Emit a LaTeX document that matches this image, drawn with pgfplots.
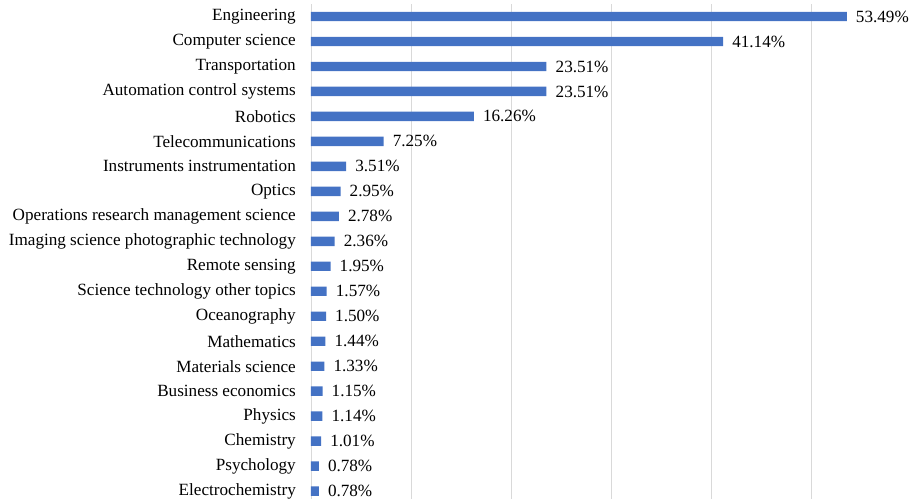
\documentclass[border=0pt]{standalone}
\usepackage{pgfplots}
\pgfplotsset{compat=1.18}
\usepackage{fontspec}
\setmainfont{Liberation Serif}
\definecolor{barblue}{HTML}{4472C4}
\definecolor{gridgray}{HTML}{D9D9D9}
\begin{document}
\begin{tikzpicture}
\begin{axis}[name=ax,
  scale only axis, width=601bp, height=499.6bp,
  xbar, bar width=9.4bp,
  xmin=0, xmax=60, ymin=-0.5, ymax=19.5,
  y dir=reverse,
  ytick={0,...,19},
  yticklabels={Engineering, Computer science, Transportation, Automation control systems, Robotics, Telecommunications, Instruments instrumentation, Optics, Operations research management science, Imaging science photographic technology, Remote sensing, Science technology other topics, Oceanography, Mathematics, Materials science, Business economics, Physics, Chemistry, Psychology, Electrochemistry},
  xtick={0,10,...,50}, xticklabels={},
  xmajorgrids, grid style={gridgray, line width=0.9bp},
  axis line style={draw=none},
  major tick length=0pt,
  yticklabel style={font=\fontsize{17.2}{20}\selectfont, inner sep=0pt, xshift=-15bp},
  point meta=x,
  nodes near coords={\pgfmathprintnumber[fixed,fixed zerofill,precision=2,assume math mode=true]{\pgfplotspointmeta}\%},
  nodes near coords style={font=\fontsize{17.2}{20}\selectfont, anchor=west, inner sep=0pt, xshift=9bp, text=black},
]
\addplot[fill=barblue, draw=none] coordinates {
(53.49,0) (41.14,1) (23.51,2) (23.51,3) (16.26,4) (7.25,5) (3.51,6) (2.95,7) (2.78,8) (2.36,9)
(1.95,10) (1.57,11) (1.50,12) (1.44,13) (1.33,14) (1.15,15) (1.14,16) (1.01,17) (0.78,18) (0.78,19)};
\end{axis}
\pgfresetboundingbox
\useasboundingbox ([xshift=-311bp,yshift=4bp]ax.north west) rectangle ([yshift=-495bp]ax.north east);
\end{tikzpicture}
\end{document}
